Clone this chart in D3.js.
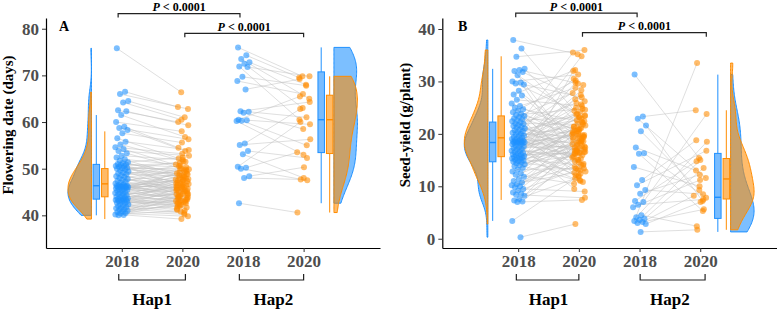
<!DOCTYPE html>
<html><head><meta charset="utf-8">
<script src="https://cdn.jsdelivr.net/npm/d3@7"></script>
<style>body{margin:0;background:#fff}svg{display:block}</style>
</head><body><svg id="c" width="777" height="310"></svg>
<script>
// ---------------- data ----------------
const yearLabels = ["2018","2020","2018","2020"];
const hapLabels = ["Hap1","Hap2"];
const fdTicks = [40,50,60,70,80];
const syTicks = [0,10,20,30,40];

// Panel A: flowering date (days), paired 2018 -> 2020
const fdHap1_2018 = [75.8,66.5,66.0,64.5,64.2,62.5,62.3,61.5,60.0,59.0,58.7,58.3,57.6,56.5,55.8,55.2,54.6,54.2,53.8,53.3,52.8,52.4,52.0,51.7,51.4,51.2,51.0,
50.9,50.8,50.6,50.5,50.4,50.2,50.1,50.0,49.8,49.6,49.4,49.2,49.0,48.8,48.6,48.4,48.2,48.0,47.8,47.6,47.4,47.2,47.0,46.8,46.6,46.5,46.4,
46.3,46.3,46.2,46.2,46.1,46.1,46.0,46.0,45.9,45.8,45.7,45.6,45.5,45.3,45.2,45.0,44.9,44.8,44.6,44.5,44.3,44.2,44.0,43.9,43.8,43.6,43.5,
43.4,43.4,43.3,43.3,43.2,43.1,43.0,42.9,42.7,42.6,42.4,42.3,42.1,42.0,41.8,41.6,41.5,41.3,41.2,41.0,40.9,40.7,40.5,40.4,40.2,40.1,40.0];
const fdHap1_2020 = [66.4,63.2,62.8,61.0,60.5,60.0,59.3,56.8,58.0,54.5,56.3,53.8,55.6,52.2,54.0,51.5,53.2,50.6,52.8,49.8,51.9,48.6,50.9,47.9,52.4,49.2,46.8,
50.3,48.1,51.2,46.2,49.5,47.6,50.0,45.8,48.9,51.6,46.9,49.0,44.8,48.4,50.7,45.5,47.3,49.6,44.4,47.0,48.8,45.1,50.1,46.5,43.8,48.2,45.9,
47.5,44.6,49.3,46.0,43.5,47.8,45.3,48.5,44.2,46.7,42.9,47.2,45.0,49.9,43.3,46.3,44.0,47.7,42.6,45.6,48.0,43.1,46.4,44.7,42.3,45.4,43.6,
46.6,42.0,44.5,41.7,47.4,43.0,41.4,45.2,42.8,44.1,41.2,43.4,46.1,40.8,42.5,44.3,40.5,43.2,41.9,45.7,40.2,42.2,43.9,39.8,41.0,39.2,42.7];
const fdHap2_2018 = [76.0,74.3,73.5,72.8,72.5,71.9,71.8,69.7,68.8,67.0,62.3,62.2,62.0,60.5,60.4,60.3,60.2,55.4,55.1,53.8,53.1,50.4,50.2,50.0,48.4,48.0,42.6];
const fdHap2_2020 = [69.8,69.5,65.0,68.0,63.0,60.5,69.8,67.8,66.0,69.2,64.3,61.0,58.5,65.5,59.5,55.0,53.0,62.8,56.3,52.3,48.0,60.0,53.5,47.5,50.3,47.7,40.6];

// Panel B: seed yield (g/plant), paired 2018 -> 2020
const syHap1_2018 = [37.9,36.3,34.7,32.4,32.2,32.0,31.8,31.2,30.0,29.8,29.6,29.4,28.2,27.5,27.3,26.5,25.8,25.3,25.0,24.7,24.4,24.1,23.8,23.6,23.4,23.2,23.0,22.8,22.6,22.4,
22.2,22.0,21.9,21.7,21.5,21.3,21.2,21.0,20.8,20.7,20.5,20.3,20.2,20.0,19.9,19.7,19.6,19.4,19.3,19.1,19.0,18.9,18.8,18.7,18.6,18.5,18.5,18.4,18.4,18.4,
18.3,18.2,18.1,18.0,17.9,17.7,17.6,17.4,17.3,17.1,17.0,16.8,16.7,16.5,16.4,16.3,16.1,16.0,15.9,15.8,15.7,15.6,15.5,15.4,15.3,15.2,15.0,14.9,14.8,14.7,
14.6,14.4,14.2,14.0,13.8,13.5,13.2,12.8,12.5,12.2,11.8,11.4,11.0,10.7,10.4,10.2,10.0,9.8,9.5,9.2,8.8,8.6,8.4,8.2,7.6,7.3,7.1,7.0,3.4,0.3];
const syHap1_2020 = [35.2,24.4,36.0,21.1,29.6,17.4,26.2,22.9,31.3,14.8,23.5,27.0,19.2,32.2,16.6,25.3,20.4,28.8,12.8,22.2,18.5,30.2,15.5,24.8,20.8,13.4,27.8,19.7,23.1,16.9,
35.5,21.8,11.2,25.9,18.9,29.3,16.4,22.6,20.1,14.3,24.2,17.9,30.5,19.5,12.4,23.8,21.4,16.5,27.4,18.2,9.5,22.4,25.6,15.1,20.7,17.0,28.3,19.6,13.7,23.4,
34.8,20.0,16.1,24.6,18.8,11.8,26.6,21.6,17.7,14.6,29.8,19.9,15.9,23.2,12.1,18.0,22.1,16.4,25.0,20.3,10.8,17.3,23.7,19.3,14.0,21.0,16.7,32.0,18.6,13.0,
20.5,15.7,19.4,11.0,17.1,21.3,13.4,18.3,16.4,10.5,19.8,15.3,22.0,12.6,17.6,14.1,20.9,16.3,9.0,18.6,13.2,16.8,7.8,19.1,15.0,11.5,17.4,7.4,12.0,2.8];
const syHap2_2018 = [31.3,23.3,22.9,21.6,20.5,17.4,16.3,16.2,13.7,11.2,10.2,9.3,8.6,7.2,7.0,6.5,6.0,4.5,4.1,3.8,3.6,3.4,3.2,3.0,2.8,1.3];
const syHap2_2020 = [15.4,24.5,11.6,7.2,9.3,13.0,7.8,5.3,10.0,18.8,16.8,8.5,12.2,14.8,23.8,7.5,11.2,2.4,18.5,13.5,15.0,33.5,8.2,5.6,7.0,1.7];

// ---------------- style ----------------
const BLUE = "#1E90FF", ORANGE = "#FF8C00";
const FONT = "'Liberation Serif','Times New Roman',serif";
const svg = d3.select("#c");

function quart(v){
  const s = v.slice().sort(d3.ascending);
  const q1 = d3.quantile(s,0.25), med = d3.quantile(s,0.5), q3 = d3.quantile(s,0.75);
  const iqr = q3-q1;
  const lo = d3.min(s.filter(d=>d>=q1-1.5*iqr));
  const hi = d3.max(s.filter(d=>d<=q3+1.5*iqr));
  return {q1,med,q3,lo,hi};
}
function kde(v){
  const s = v.slice().sort(d3.ascending);
  const sd = d3.deviation(s), iqr = d3.quantile(s,0.75)-d3.quantile(s,0.25);
  const bw = 0.9*Math.min(sd, iqr/1.34)*Math.pow(s.length,-0.2);
  const lo = s[0], hi = s[s.length-1], n = 120;
  const pts = d3.range(n+1).map(k=>{
    const t = lo+(hi-lo)*k/n;
    return [t, d3.mean(s, d=>Math.exp(-0.5*((t-d)/bw)**2))];
  });
  const m = d3.max(pts,p=>p[1]);
  return pts.map(p=>[p[0],p[1]/m]);
}
const frac = x => x-Math.floor(x);

function panel(cfg){
  const x = d3.scaleLinear().domain([-0.25,5.26]).range(cfg.xr);
  const y = d3.scaleLinear().domain(cfg.yd).range([248,18]);
  const g = svg.append("g");

  const groups = [
    {a:cfg.h1a, b:cfg.h1b, p:1, side:-1, flat:0.5, boxA:0.58, boxB:0.72},
    {a:cfg.h2a, b:cfg.h2b, p:3, side:1, flat:4.5, boxA:4.29, boxB:4.43}
  ];
  groups.forEach(G=>{
    G.pts = G.a.map((v,i)=>({
      xa: x(G.p + (frac(i*0.618034+0.13)-0.5)*0.22), ya: y(v),
      xb: x(G.p+1 + (frac(i*0.754878+0.41)-0.5)*0.22), yb: y(G.b[i])
    }));
  });
  // connecting lines
  groups.forEach(G=>{
    g.append("g").selectAll("line").data(G.pts).join("line")
      .attr("x1",d=>d.xa).attr("y1",d=>d.ya).attr("x2",d=>d.xb).attr("y2",d=>d.yb)
      .attr("stroke","#c2c2c2").attr("stroke-width",0.7).attr("stroke-opacity",0.75);
  });
  // points
  groups.forEach(G=>{
    g.append("g").selectAll("circle").data(G.pts).join("circle")
      .attr("cx",d=>d.xa).attr("cy",d=>d.ya).attr("r",3).attr("fill",BLUE).attr("fill-opacity",0.58);
    g.append("g").selectAll("circle").data(G.pts).join("circle")
      .attr("cx",d=>d.xb).attr("cy",d=>d.yb).attr("r",3).attr("fill",ORANGE).attr("fill-opacity",0.58);
  });
  // half violins
  const W = 23.5;
  groups.forEach(G=>{
    [[G.a,BLUE],[G.b,ORANGE]].forEach(([vals,col])=>{
      const dens = kde(vals);
      const f = x(G.flat);
      const area = d3.area().y(d=>y(d[0])).x0(f).x1(d=>f+G.side*W*d[1]);
      g.append("path").datum(dens).attr("d",area)
        .attr("fill",col).attr("fill-opacity",0.58).attr("stroke",col).attr("stroke-width",1);
    });
  });
  // boxplots
  const bw = 6.5;
  groups.forEach(G=>{
    [[G.a,BLUE,G.boxA],[G.b,ORANGE,G.boxB]].forEach(([vals,col,pos])=>{
      const q = quart(vals), cx = x(pos);
      g.append("line").attr("x1",cx).attr("x2",cx).attr("y1",y(q.hi)).attr("y2",y(q.q3)).attr("stroke",col).attr("stroke-width",1);
      g.append("line").attr("x1",cx).attr("x2",cx).attr("y1",y(q.q1)).attr("y2",y(q.lo)).attr("stroke",col).attr("stroke-width",1);
      g.append("rect").attr("x",cx-bw/2).attr("width",bw).attr("y",y(q.q3)).attr("height",y(q.q1)-y(q.q3))
        .attr("fill",col).attr("fill-opacity",0.6).attr("stroke",col).attr("stroke-width",1);
      g.append("line").attr("x1",cx-bw/2).attr("x2",cx+bw/2).attr("y1",y(q.med)).attr("y2",y(q.med)).attr("stroke",col).attr("stroke-width",1.4);
    });
  });

  // axes
  const ya = g.append("g").attr("transform",`translate(${cfg.xr[0]},0)`)
    .call(d3.axisLeft(y).tickValues(cfg.ticks).tickSize(4).tickPadding(3).tickSizeOuter(0));
  const xa = g.append("g").attr("transform","translate(0,248)")
    .call(d3.axisBottom(x).tickValues([1,2,3,4]).tickFormat((d,i)=>yearLabels[i]).tickSize(4).tickPadding(3).tickSizeOuter(0));
  [ya,xa].forEach(a=>{
    a.attr("font-family",null).attr("font-size",null);
    a.select(".domain").attr("stroke","#000").attr("stroke-width",1.2);
    a.selectAll(".tick line").attr("stroke","#333").attr("stroke-width",1);
    a.selectAll(".tick text").attr("fill","#4d4d4d").attr("font-family",FONT).attr("font-weight","bold").attr("font-size","17px");
  });

  // y title
  g.append("text").attr("transform",`translate(${cfg.titleX},125) rotate(-90)`).attr("text-anchor","middle")
    .attr("font-family",FONT).attr("font-weight","bold").attr("font-size","15px").attr("fill","#000").text(cfg.title);
  // panel letter
  g.append("text").attr("x",cfg.letterX).attr("y",30.5).attr("font-family",FONT).attr("font-weight","bold")
    .attr("font-size","14px").attr("fill","#000").text(cfg.letter);

  // hap brackets
  cfg.hapBr.forEach((br,i)=>{
    const x0 = x(br[0]), x1 = x(br[1]);
    g.append("path").attr("d",`M${x0},274V280H${x1}V274`).attr("fill","none").attr("stroke","#222").attr("stroke-width",1.2);
    g.append("text").attr("x",(x(1+2*i)+x(2+2*i))/2).attr("y",305).attr("text-anchor","middle")
      .attr("font-family",FONT).attr("font-weight","bold").attr("font-size","17px").attr("fill","#000").text(hapLabels[i]);
  });
  // significance brackets
  cfg.sig.forEach(s=>{
    const x0 = x(s.a), x1 = x(s.b);
    g.append("path").attr("d",`M${x0},${s.y+4}V${s.y}H${x1}V${s.y+4}`).attr("fill","none").attr("stroke","#222").attr("stroke-width",1.2);
    const t = g.append("text").attr("x",(x0+x1)/2).attr("y",s.y-2.6).attr("text-anchor","middle")
      .attr("font-family",FONT).attr("font-weight","bold").attr("font-size","12px").attr("fill","#000");
    t.append("tspan").attr("font-style","italic").text("P");
    t.append("tspan").text(" < 0.0001");
  });
}

panel({xr:[46,380], yd:[33,82.3], ticks:fdTicks, title:"Flowering date (days)", titleX:13, letter:"A", letterX:59,
  h1a:fdHap1_2018, h1b:fdHap1_2020, h2a:fdHap2_2018, h2b:fdHap2_2020,
  hapBr:[[0.95,2.05],[2.94,4.0]], sig:[{a:0.94,b:2.95,y:13.6},{a:2.04,b:4.0,y:33.3}]});
panel({xr:[442.3,776.7], yd:[-1.77,42.1], ticks:syTicks, title:"Seed-yield (g/plant)", titleX:410, letter:"B", letterX:458,
  h1a:syHap1_2018, h1b:syHap1_2020, h2a:syHap2_2018, h2b:syHap2_2020,
  hapBr:[[0.97,2.0],[3.01,4.08]], sig:[{a:0.96,b:2.96,y:13.2},{a:2.06,b:4.1,y:32.7}]});
</script>
</body></html>
